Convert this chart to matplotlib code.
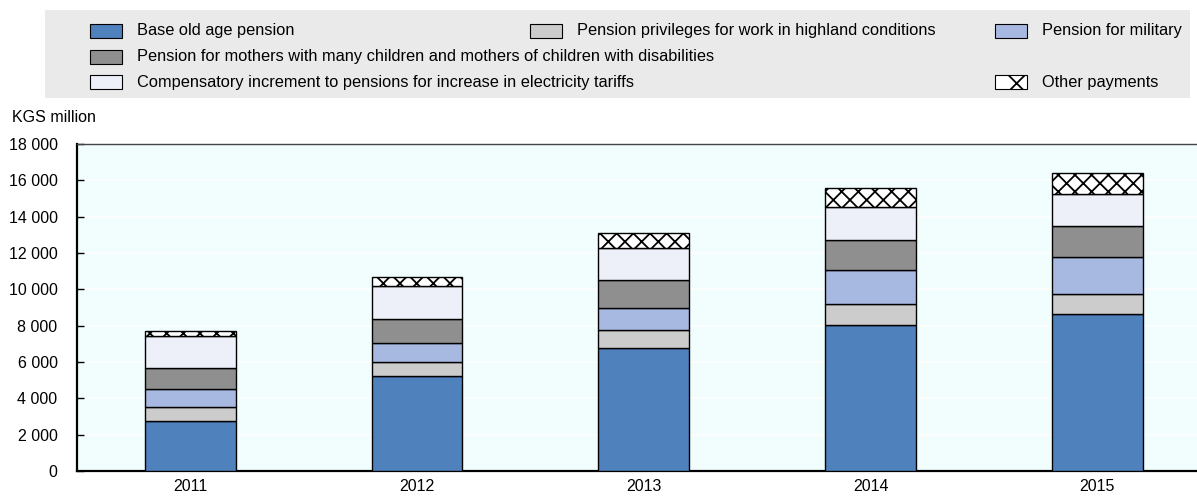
import matplotlib.pyplot as plt
from matplotlib.patches import Rectangle
import numpy as np

plt.rcParams['font.family'] = ['Liberation Sans', 'DejaVu Sans']
plt.rcParams['hatch.linewidth'] = 1.3

years = ['2011', '2012', '2013', '2014', '2015']
base_pension = [2750, 5210, 6790, 8050, 8640]
highland = [760, 810, 990, 1140, 1100]
military = [990, 1010, 1170, 1870, 2050]
mothers = [1150, 1340, 1560, 1650, 1690]
compensatory = [1780, 1810, 1750, 1800, 1780]
other_payments = [270, 480, 820, 1070, 1140]

series = [
    ('Base old age pension', base_pension, '#4F81BD', None),
    ('Pension privileges for work in highland conditions', highland, '#CCCCCC', None),
    ('Pension for military', military, '#A7B8E1', None),
    ('Pension for mothers with many children and mothers of children with disabilities', mothers, '#8F8F8F', None),
    ('Compensatory increment to pensions for increase in electricity tariffs', compensatory, '#EDF0F8', None),
    ('Other payments', other_payments, 'white', 'xx'),
]

W, H = 1197, 496
fig = plt.figure(figsize=(W / 100, H / 100), dpi=100)
ax = fig.add_axes([77 / W, 1 - 471 / H, 1 - 77 / W, (471 - 144) / H])
ax.set_facecolor('#F2FEFE')

x = np.arange(len(years))
bottom = np.zeros(len(years))
for name, vals, color, hatch in series:
    ax.bar(x, vals, 0.4, bottom=bottom, color=color, edgecolor='black',
           linewidth=1.0, hatch=hatch, zorder=3)
    bottom += np.array(vals)

ax.set_ylim(0, 18000)
ax.set_xlim(-0.5, 4.44)
ax.set_yticks(range(0, 18001, 2000))
ax.set_yticklabels([f'{v:,}'.replace(',', ' ') for v in range(0, 18001, 2000)])
ax.set_xticks(x)
ax.set_xticklabels(years)
ax.yaxis.grid(True, color='white', linewidth=1.2, zorder=0)
ax.set_axisbelow(True)
ax.tick_params(axis='y', direction='in', length=5, width=1, labelsize=11.5, pad=14)
ax.tick_params(axis='x', length=0, labelsize=11.5, pad=6)
ax.spines['right'].set_visible(False)
ax.spines['top'].set_color('#444444')
ax.spines['top'].set_linewidth(1.0)
ax.spines['left'].set_linewidth(1.6)
ax.spines['bottom'].set_linewidth(1.6)

fig.text(12 / W, 1 - 117 / H, 'KGS million', fontsize=11.5, va='center', ha='left')

# legend drawn by hand on a grey band above the plot
fig.patches.append(Rectangle((45 / W, 1 - 98 / H), (1190 - 45) / W, 88 / H,
                             transform=fig.transFigure, facecolor='#EAEAEA',
                             edgecolor='none', zorder=0))
slots = [(90, 31), (530, 31), (995, 31), (90, 57), (90, 82), (995, 82)]
for (name, vals, color, hatch), (px, py) in zip(series, slots):
    fig.patches.append(Rectangle((px / W, 1 - (py + 7) / H), 32 / W, 14 / H,
                                 transform=fig.transFigure, facecolor=color,
                                 edgecolor='black', linewidth=0.8,
                                 hatch='x' if hatch else None))
    fig.text((px + 47) / W, 1 - py / H, name, fontsize=11.8, va='center', ha='left')

fig.savefig('out.png', dpi=100)
